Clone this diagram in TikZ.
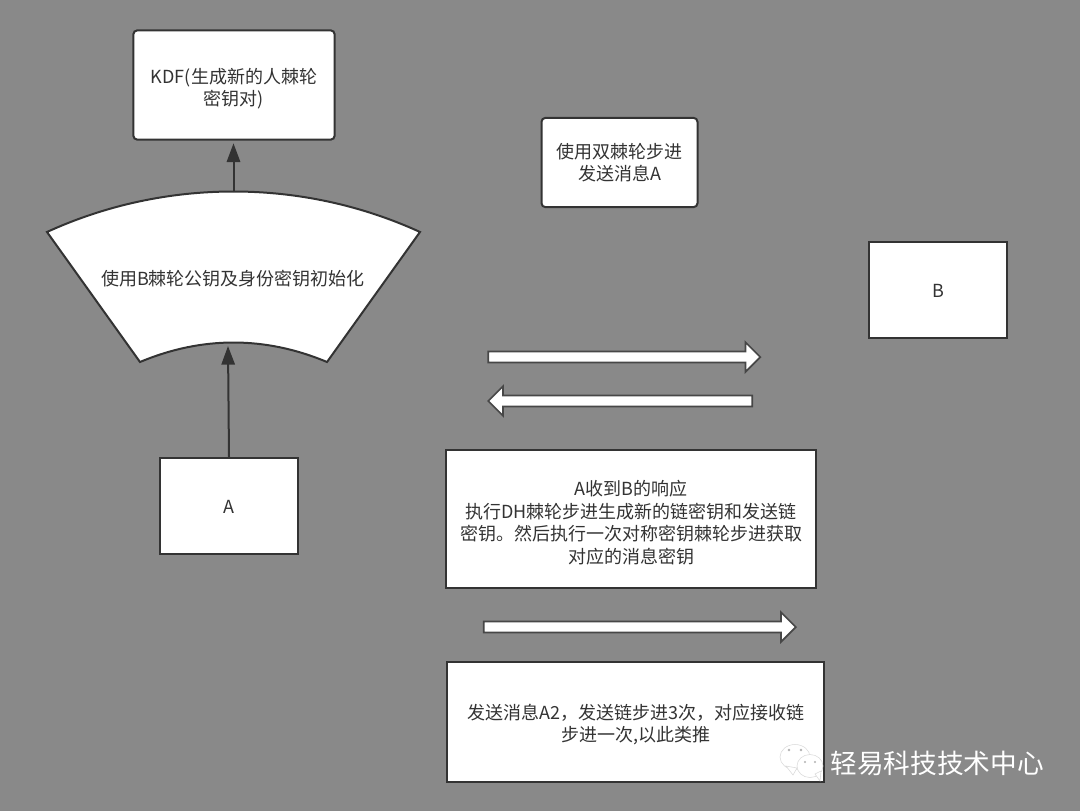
\documentclass[tikz,border=0pt]{standalone}
\usepackage{fontspec}
\setmainfont{Noto Sans CJK SC}
\usetikzlibrary{arrows.meta,shapes.arrows,shapes.geometric,positioning}
\definecolor{panelgray}{HTML}{898989}
\definecolor{inkgray}{HTML}{333333}
\newcommand{\topgap}[1]{\rule{0pt}{#1}}

\begin{document}
\begin{tikzpicture}[
  x=0.75pt, y=-0.75pt,
  box/.style={rectangle, draw=inkgray, fill=white, line width=1.5pt, text=inkgray,
              align=center, inner sep=2pt, font=\fontsize{13.5}{16.8}\selectfont},
  softbox/.style={box, rounded corners=3pt},
  arrow/.style={-{Triangle[length=14pt, width=10pt]}, line width=1.5pt, draw=inkgray},
  blockarrow/.style={single arrow, draw=inkgray!90, fill=white, line width=1.3pt,
              minimum width=21pt, single arrow head extend=7pt,
              single arrow head indent=0pt, inner xsep=0pt, inner ysep=3.5pt, outer sep=0pt},
  bubble/.style={fill=white, draw=black!15, line width=0.4pt},
  eye/.style={fill=black!30}
]
\useasboundingbox[fill=panelgray] (0,0) rectangle (1080,811);

%% Left column: A, fan, KDF
\node[softbox, minimum width=151pt, minimum height=82pt] (kdf) at (234,85)
  {\topgap{17pt}KDF(生成新的人棘轮\\密钥对)};
\node[box, minimum width=103pt, minimum height=72pt] (a-box) at (229,506) {\topgap{11pt}A};

\draw[draw=inkgray, fill=white, line width=1.5pt]
  (47,232) .. controls (165,178) and (302,178) .. (420,232)
  -- (327,362) .. controls (265,336) and (202,336) .. (140,362) -- cycle;
\node[text=inkgray, font=\fontsize{13.5}{16.8}\selectfont] (fan) at (233,279)
  {使用B棘轮公钥及身份密钥初始化};
\coordinate (fan-top) at (233.5,192);
\coordinate (fan-bot) at (228,346);

\draw[arrow, shorten >=2pt] (fan-top) -- (fan-top |- kdf.south);
\draw[arrow] (a-box.north) -- (fan-bot);

%% Right column: messages
\node[softbox, minimum width=117pt, minimum height=67pt] (dual) at (619.5,162.5)
  {使用双棘轮步进\\发送消息A};
\node[box, minimum width=103pt, minimum height=72pt] (b-box) at (938,289.5) {\topgap{12pt}B};

\node[blockarrow, minimum height=204pt] (msg-out) at (621.5,357) {};
\node[blockarrow, minimum height=198pt, shape border rotate=180] (msg-back) at (623,401) {};

\node[box, minimum width=278pt, minimum height=104pt] (respond) at (631,519)
  {\topgap{17pt}A收到B的响应\\执行DH棘轮步进生成新的链密钥和发送链\\密钥。然后执行一次对称密钥棘轮步进获取\\对应的消息密钥};
\node[blockarrow, minimum height=234pt] (msg-next) at (637,627) {};
\node[box, minimum width=283pt, minimum height=90pt, below=54pt of respond, xshift=3.5pt] (send)
  {\topgap{14.5pt}发送消息A2，发送链步进3次，对应接收链\\步进一次,以此类推};

%% Watermark
\fill[bubble] (795,757) ellipse [x radius=15, y radius=12.5];
\fill[bubble] (786,766) -- (793,775) -- (797,768) -- cycle;
\fill[bubble] (810,766) ellipse [x radius=13, y radius=11.5];
\fill[bubble] (815,774) -- (820,781) -- (821,771) -- cycle;
\fill[eye] (789,750) circle [radius=1.3] (801,750) circle [radius=1.3];
\fill[eye] (805,762) circle [radius=1.2] (815,762) circle [radius=1.2];
\node[text=white, font=\fontsize{20}{24}\selectfont, inner sep=0pt] (mark) at (937,763)
  {轻易科技技术中心};

\end{tikzpicture}
\end{document}
